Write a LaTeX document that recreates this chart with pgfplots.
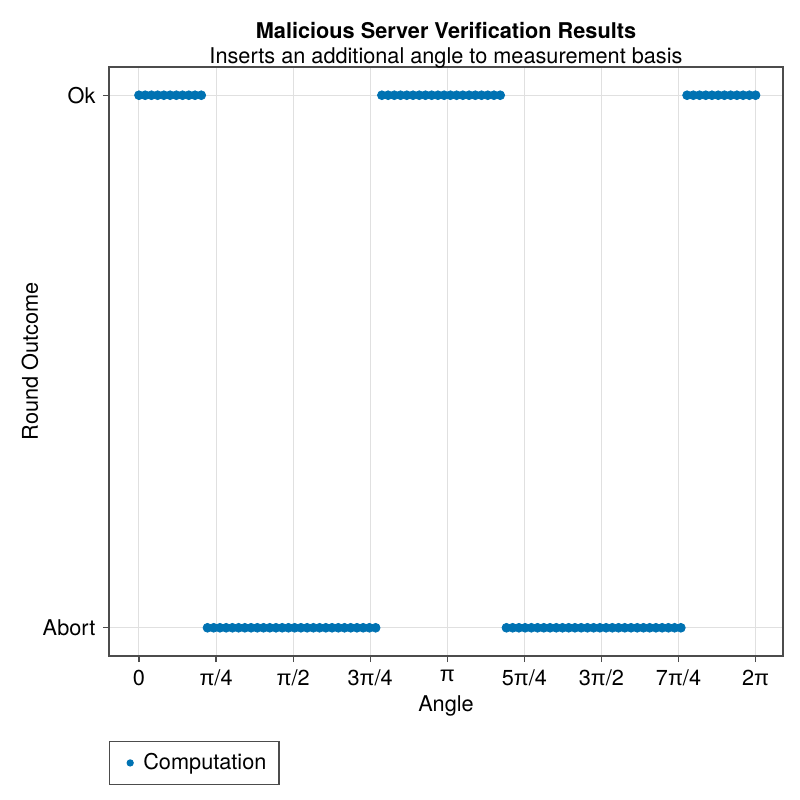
\documentclass[border=0pt]{standalone}
\usepackage{fontspec}
\setmainfont{TeX Gyre Heros}
\newfontfamily\pifont{Liberation Sans}
\usepackage{pgfplots}
\pgfplotsset{compat=1.18}
\definecolor{wong1}{RGB}{0,114,178}
\newcommand{\p}{{\pifont π}}
\pgfplotstableread{
x y
0 1
3.636 1
7.273 1
10.909 1
14.545 1
18.182 1
21.818 1
25.455 1
29.091 1
32.727 1
36.364 1
40.000 0
43.636 0
47.273 0
50.909 0
54.545 0
58.182 0
61.818 0
65.455 0
69.091 0
72.727 0
76.364 0
80.000 0
83.636 0
87.273 0
90.909 0
94.545 0
98.182 0
101.818 0
105.455 0
109.091 0
112.727 0
116.364 0
120.000 0
123.636 0
127.273 0
130.909 0
134.545 0
138.182 0
141.818 1
145.455 1
149.091 1
152.727 1
156.364 1
160.000 1
163.636 1
167.273 1
170.909 1
174.545 1
178.182 1
181.818 1
185.455 1
189.091 1
192.727 1
196.364 1
200.000 1
203.636 1
207.273 1
210.909 1
214.545 0
218.182 0
221.818 0
225.455 0
229.091 0
232.727 0
236.364 0
240.000 0
243.636 0
247.273 0
250.909 0
254.545 0
258.182 0
261.818 0
265.455 0
269.091 0
272.727 0
276.364 0
280.000 0
283.636 0
287.273 0
290.909 0
294.545 0
298.182 0
301.818 0
305.455 0
309.091 0
312.727 0
316.364 0
320.000 1
323.636 1
327.273 1
330.909 1
334.545 1
338.182 1
341.818 1
345.455 1
349.091 1
352.727 1
356.364 1
360.000 1
}\datatable
\begin{document}
\fontsize{10.85}{13}\selectfont
\begin{tikzpicture}
\begin{axis}[name=ax, at={(0,0)}, anchor=south west,
  scale only axis, width=337pt, height=294.5pt,
  xmin=-17.5, xmax=376, ymin=-0.053, ymax=1.053,
  xtick={0,45,...,360},
  xticklabels={0,\p/4,\p/2,3\p/4,\p,5\p/4,3\p/2,7\p/4,2\p},
  ytick={0,1}, yticklabels={Abort,Ok},
  grid=major, major grid style={draw=black!12, line width=0.5pt},
  axis line style={draw=black!70, line width=0.6pt},
  tick align=outside, tick pos=left, major tick length=3pt,
  tick style={draw=black!70, line width=0.6pt},
  ticklabel style={font=\fontsize{10.85}{13}\selectfont},
  xlabel={Angle}, ylabel={Round Outcome},
  label style={font=\fontsize{10.85}{13}\selectfont},
  xlabel style={at={(axis description cs:0.5,-0.0849)}, anchor=center},
  ylabel style={at={(axis description cs:-0.1172,0.5)}, anchor=center},
  legend style={at={(axis description cs:0,0)}, anchor=north west, yshift=-42.5pt,
    draw=black!70, line width=0.6pt, font=\fontsize{10.85}{13}\selectfont,
    inner xsep=4.3pt, inner ysep=3.8pt},
  legend cell align=left,
  legend image code/.code={\path (0,0) (0.35cm,0); \fill[wong1] (0.2cm,0cm) circle (1.5pt);},
]
\addplot[only marks, mark=*, mark size=2.2pt, color=wong1, mark options={draw=none, fill=wong1}] table[x=x, y=y] {\datatable};
\addlegendentry{Computation}
\end{axis}
\node[anchor=base, font=\bfseries] at ([yshift=14pt]ax.north) {Malicious Server Verification Results};
\node[anchor=base] at ([yshift=2pt]ax.north) {Inserts an additional angle to measurement basis};
\pgfresetboundingbox
\path[use as bounding box] (-54.5pt,-72pt) rectangle (345.5pt,328pt);
\end{tikzpicture}
\end{document}
